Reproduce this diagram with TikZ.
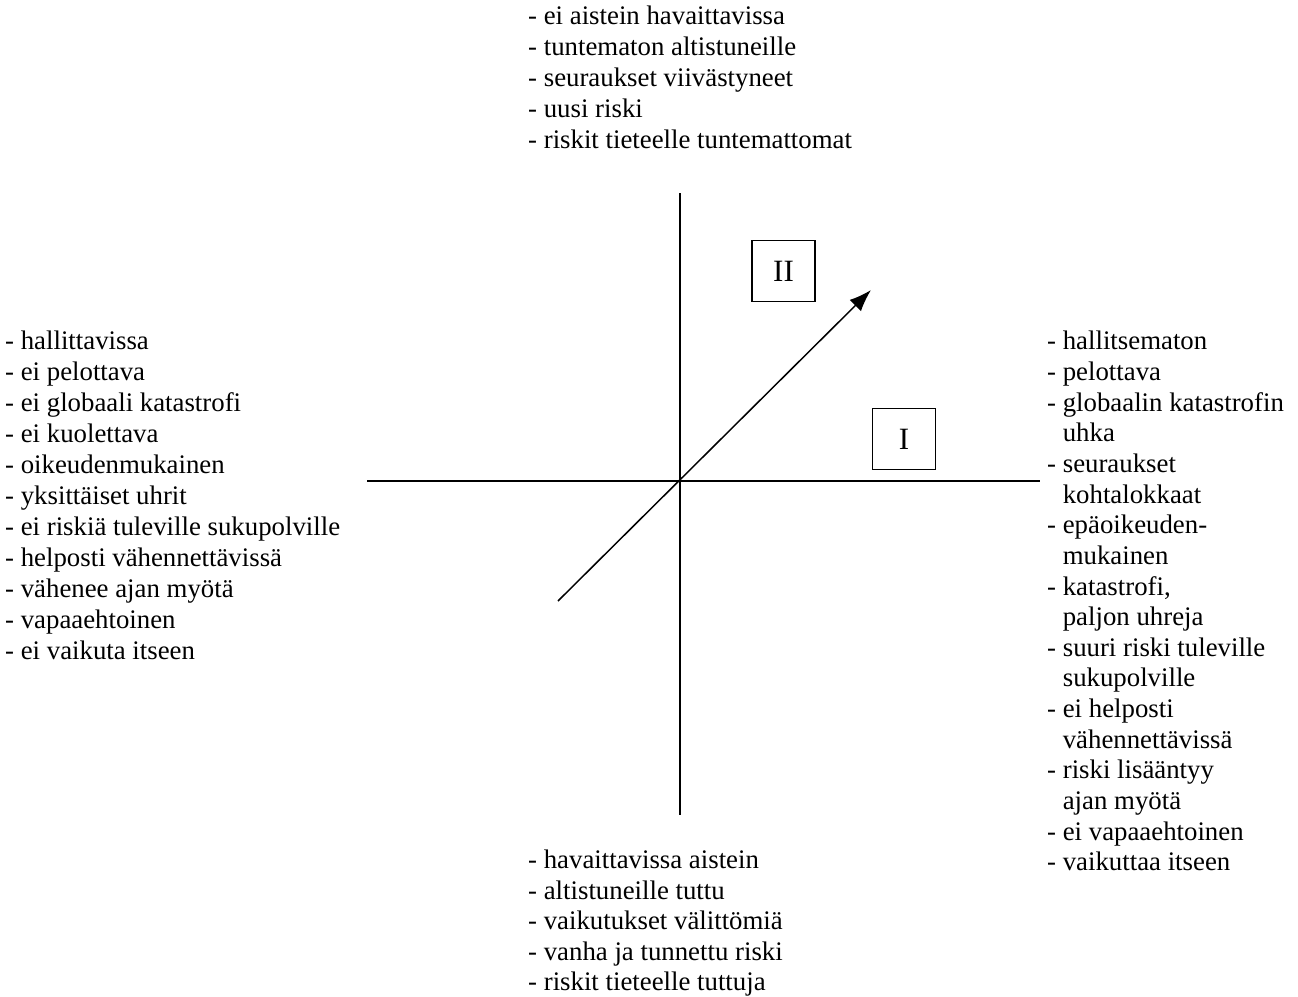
\documentclass[tikz,border=0pt]{standalone}
\usepackage{fontspec}
\setmainfont{Liberation Serif}
\usetikzlibrary{arrows.meta,positioning}

\begin{document}
\begin{tikzpicture}[x=1pt, y=-1pt]
\tikzset{
    mylabel/.style={align=left, inner sep=0pt, anchor=north west, font=\fontsize{26.8}{31}\selectfont},
    mybox/.style={rectangle, draw=black, line width=1.5pt, minimum width=63pt, minimum height=61pt, inner sep=0pt, font=\fontsize{31}{34}\selectfont},
    myaxis/.style={line width=1.5pt},
    myarrow/.style={-{Latex[length=22pt,width=16pt]}, line width=1.5pt}
}
\newcommand{\cnt}{\phantom{-\ }}
\useasboundingbox (0,0) rectangle (1298,996);

% axes
\coordinate (axtop) at (680,193);
\coordinate (axbot) at (680,815);
\coordinate (axleft) at (367,481);
\coordinate (axright) at (1040,481);
\coordinate (diagstart) at (558,601);
\coordinate (diagend) at (871,290);

\draw[myaxis] (axtop) -- (axbot);
\draw[myaxis] (axleft) -- (axright);
\draw[myarrow] (diagstart) -- (diagend);

\node[mybox] (quadII) at (783.5,271) {II};
\node[mybox] (quadI) at (904,439) {I};

\node[mylabel] (unknown) at (528,6) {- ei aistein havaittavissa\\
- tuntematon altistuneille\\
- seuraukset viivästyneet\\
- uusi riski\\
- riskit tieteelle tuntemattomat};

\node[mylabel, font=\fontsize{26.8}{30.4}\selectfont] (known) at (528,850) {- havaittavissa aistein\\
- altistuneille tuttu\\
- vaikutukset välittömiä\\
- vanha ja tunnettu riski\\
- riskit tieteelle tuttuja};

\node[mylabel] (dreadless) at (5,331) {- hallittavissa\\
- ei pelottava\\
- ei globaali katastrofi\\
- ei kuolettava\\
- oikeudenmukainen\\
- yksittäiset uhrit\\
- ei riskiä tuleville sukupolville\\
- helposti vähennettävissä\\
- vähenee ajan myötä\\
- vapaaehtoinen\\
- ei vaikuta itseen};

\node[mylabel, font=\fontsize{26.8}{30.65}\selectfont] (dread) at (1047,331) {- hallitsematon\\
- pelottava\\
- globaalin katastrofin\\
\cnt uhka\\
- seuraukset\\
\cnt kohtalokkaat\\
- epäoikeuden-\\
\cnt mukainen\\
- katastrofi,\\
\cnt paljon uhreja\\
- suuri riski tuleville\\
\cnt sukupolville\\
- ei helposti\\
\cnt vähennettävissä\\
- riski lisääntyy\\
\cnt ajan myötä\\
- ei vapaaehtoinen\\
- vaikuttaa itseen};

\end{tikzpicture}
\end{document}
